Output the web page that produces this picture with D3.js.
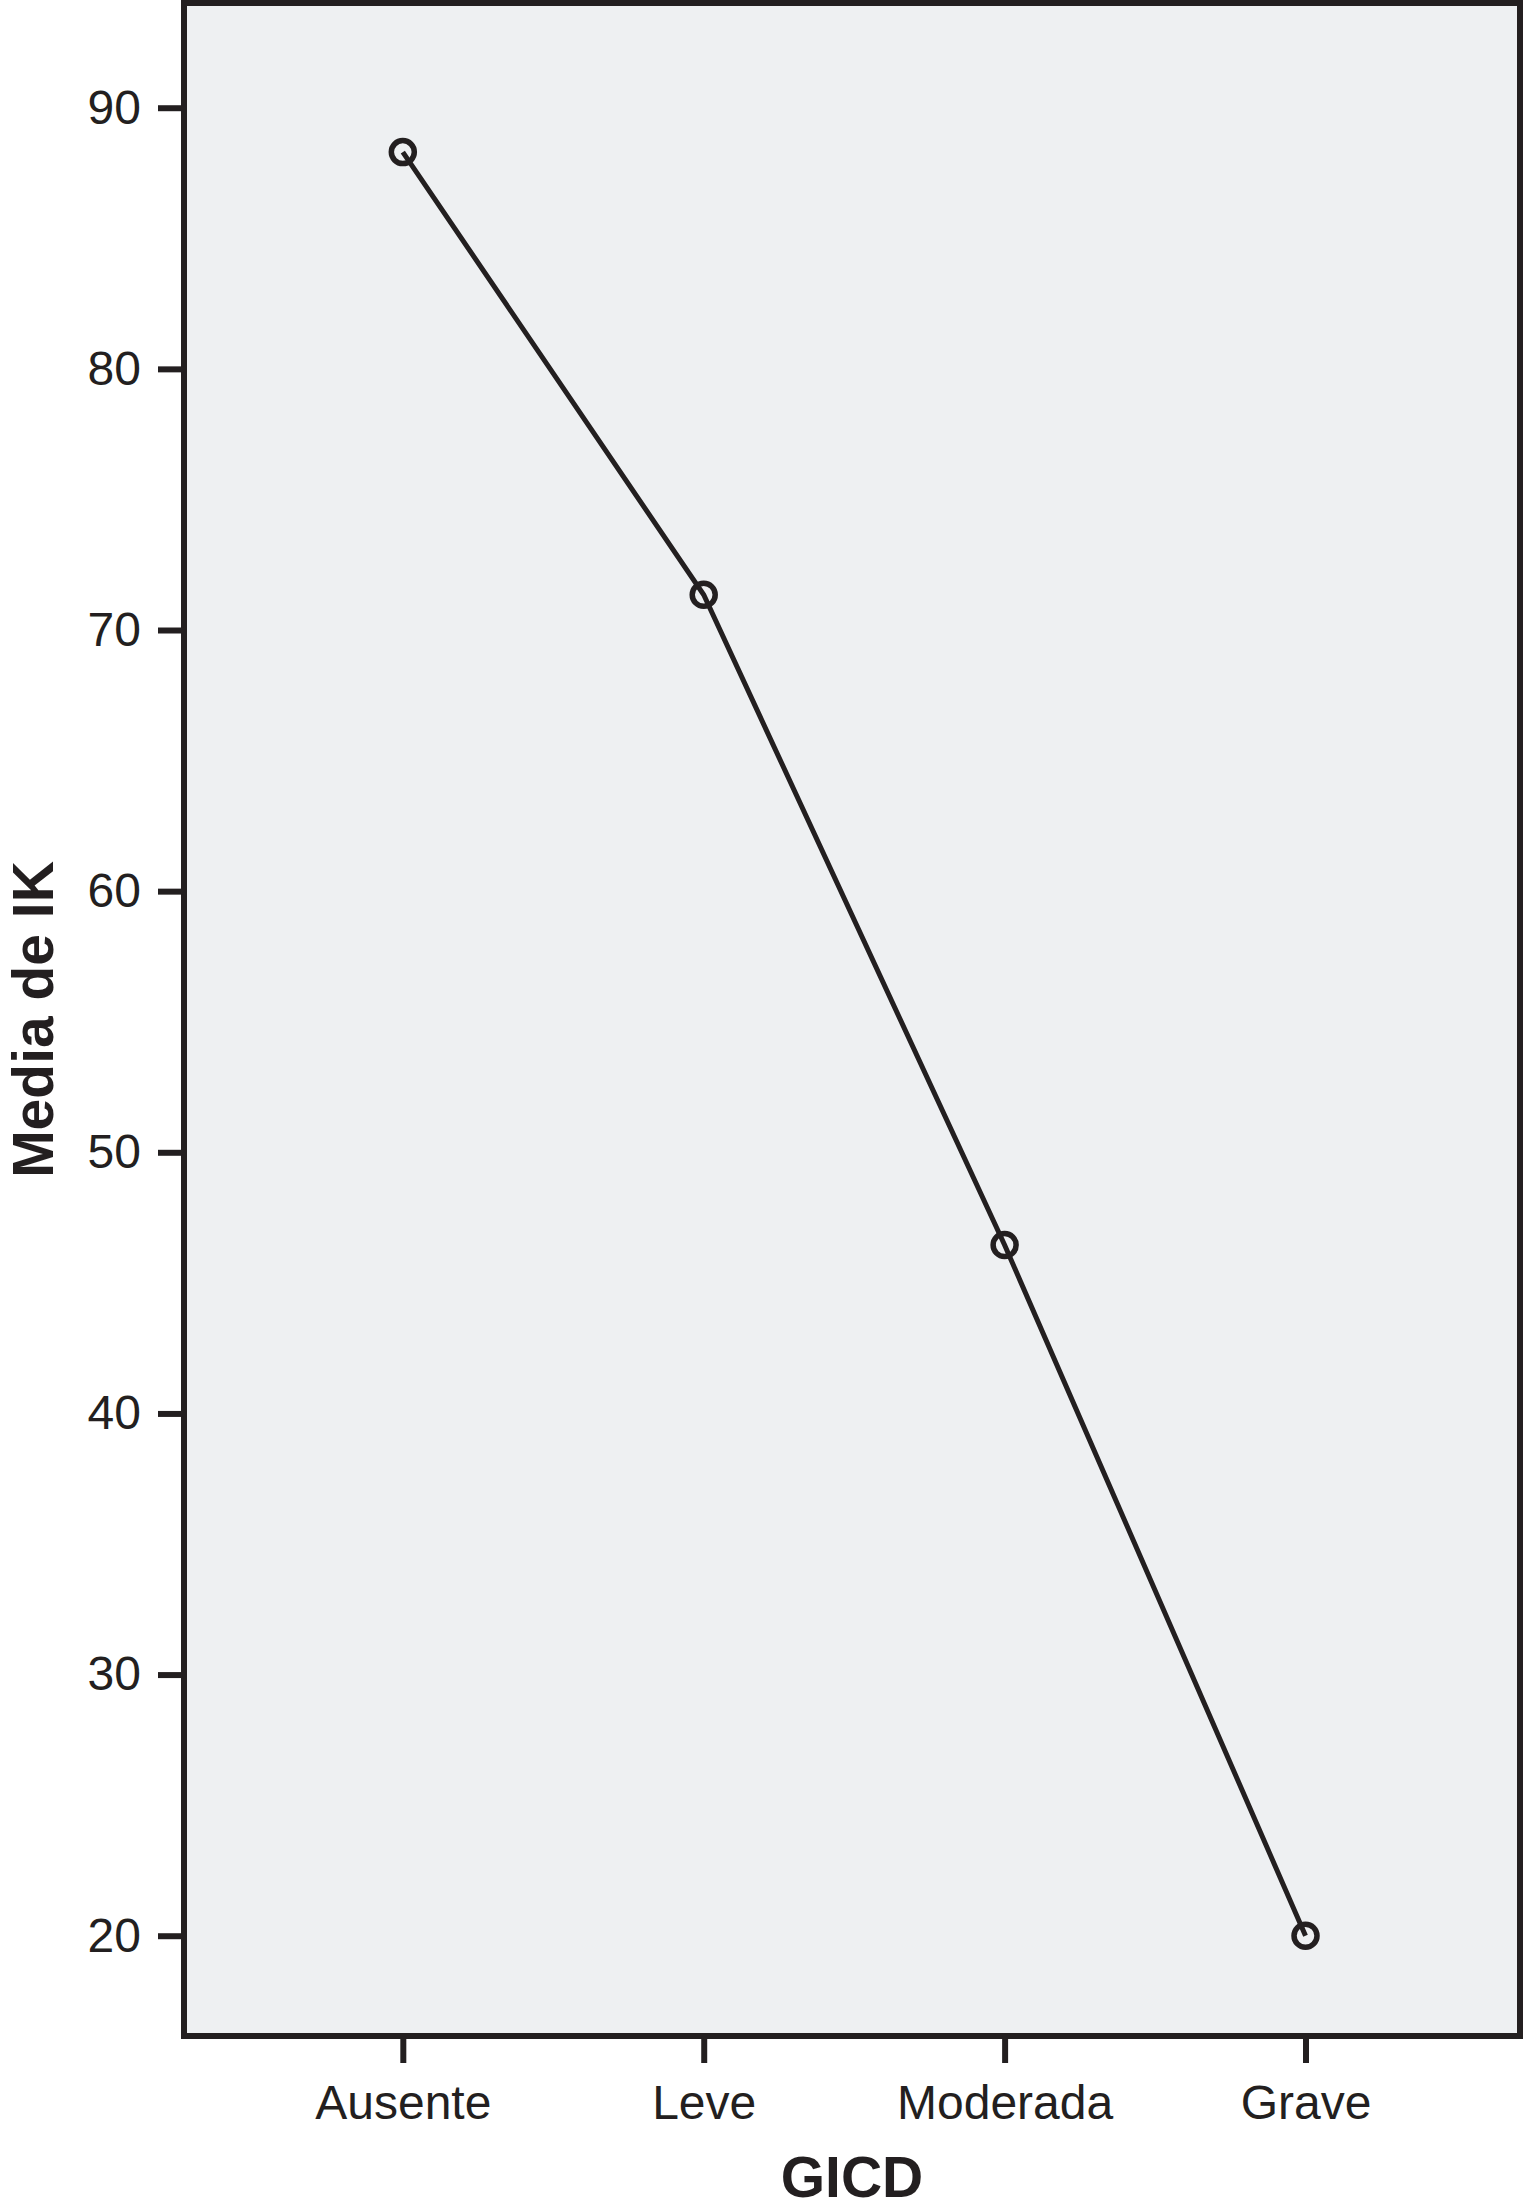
<!DOCTYPE html>
<html>
<head>
<meta charset="utf-8">
<script src="https://cdn.jsdelivr.net/npm/d3@7"></script>
<style>
  body { margin: 0; background: white; }
  svg { display: block; font-family: 'Liberation Sans', Arial, Helvetica, sans-serif; }
</style>
</head>
<body>
<script>
const categories = ['Ausente', 'Leve', 'Moderada', 'Grave'];
const means = [88.3, 71.35, 46.45, 20.0];
const yTicks = [20, 30, 40, 50, 60, 70, 80, 90];
const yDomain = [16.16, 94.01];

const width = 1523;
const height = 2209;
const ink = '#231f20';

const plot = { left: 184, right: 1520, top: 3, bottom: 2036 };

const svg = d3.select('body').append('svg')
  .attr('width', width)
  .attr('height', height);

const x = d3.scalePoint()
  .domain(categories)
  .range([plot.left, plot.right])
  .padding(0.72)
  .align(0.505);

const y = d3.scaleLinear()
  .domain(yDomain)
  .range([plot.bottom, plot.top]);

// plot background + frame
svg.append('rect')
  .attr('x', plot.left)
  .attr('y', plot.top)
  .attr('width', plot.right - plot.left)
  .attr('height', plot.bottom - plot.top)
  .attr('fill', '#eef0f2')
  .attr('stroke', ink)
  .attr('stroke-width', 6);

const yAxis = svg.append('g')
  .attr('transform', `translate(${plot.left},0)`)
  .call(d3.axisLeft(y).tickValues(yTicks).tickSize(26).tickPadding(17));

const xAxis = svg.append('g')
  .attr('transform', `translate(0,${plot.bottom})`)
  .call(d3.axisBottom(x).tickSize(27).tickPadding(22));

[yAxis, xAxis].forEach(ax => {
  ax.select('.domain').remove();
  ax.selectAll('line').attr('stroke', ink).attr('stroke-width', 6);
  ax.selectAll('text')
    .attr('fill', ink)
    .style('font-size', '48px')
    .style('font-family', "'Liberation Sans', Arial, sans-serif");
});

const points = categories.map((c, i) => ({ cat: c, value: means[i] }));

const line = d3.line()
  .x(d => x(d.cat))
  .y(d => y(d.value));

svg.append('path')
  .datum(points)
  .attr('fill', 'none')
  .attr('stroke', ink)
  .attr('stroke-width', 5)
  .attr('d', line);

svg.append('g')
  .selectAll('circle')
  .data(points)
  .join('circle')
    .attr('cx', d => x(d.cat))
    .attr('cy', d => y(d.value))
    .attr('r', 11.5)
    .attr('fill', 'none')
    .attr('stroke', ink)
    .attr('stroke-width', 5.5);

// axis titles
svg.append('text')
  .attr('x', (plot.left + plot.right) / 2)
  .attr('y', 2197)
  .attr('text-anchor', 'middle')
  .attr('fill', ink)
  .style('font-size', '57px')
  .style('font-weight', 'bold')
  .text('GICD');

svg.append('text')
  .attr('transform', `translate(53,${(plot.top + plot.bottom) / 2}) rotate(-90)`)
  .attr('text-anchor', 'middle')
  .attr('fill', ink)
  .style('font-size', '57px')
  .style('font-weight', 'bold')
  .text('Media de IK');
</script>
</body>
</html>
